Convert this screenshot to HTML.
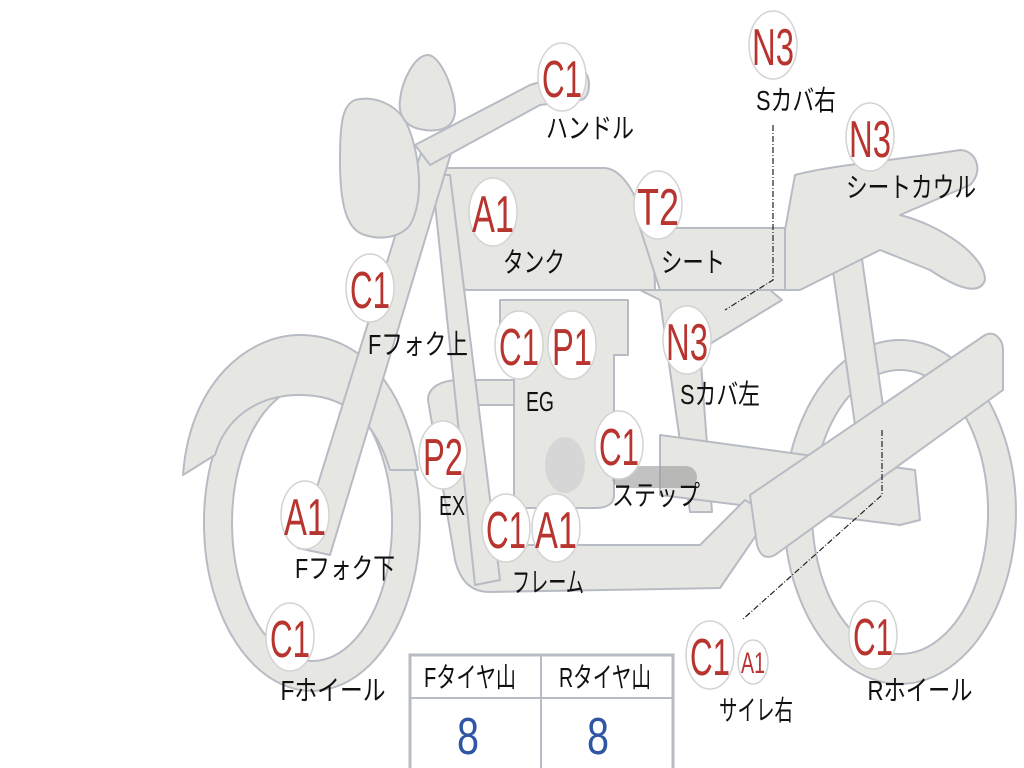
<!DOCTYPE html>
<html><head><meta charset="utf-8"><style>
html,body{margin:0;padding:0;background:#fff;width:1024px;height:768px;overflow:hidden}
svg{display:block}
.p{fill:#e6e6e3;stroke:#b7bbc3;stroke-width:2;stroke-linejoin:round}
.c{fill:#fff;stroke:#d3d3d3;stroke-width:1.5}
.r{fill:#b8352f;font-family:"Liberation Sans","Noto Sans CJK JP",sans-serif;font-size:52px;text-anchor:middle}
.k{fill:#111;font-family:"Liberation Sans","Noto Sans CJK JP",sans-serif;font-size:28px;text-anchor:middle}
</style></head><body>
<svg width="1024" height="768" viewBox="0 0 1024 768" xmlns="http://www.w3.org/2000/svg">
<path class="p" fill-rule="evenodd" d="M900,340 A116,172 0 1,1 899.9,340 Z M900,370 A88,142 0 1,0 900.1,370 Z"/>
<path class="p" fill-rule="evenodd" d="M312,355 A108,168 0 1,1 311.9,355 Z M312,385 A80,138 0 1,0 312.1,385 Z"/>
<path class="p" d="M183,475 C190,380 250,335 300,335 C360,335 405,385 418,470 L390,470 C375,420 345,395 300,395 C255,395 225,420 215,455 Z"/>
<path class="p" d="M830,250 L860,245 L885,420 L855,425 Z"/>
<path class="p" d="M795,175 C830,165 900,160 960,150 C975,150 985,170 970,185 L900,215 C940,225 985,255 985,280 C980,295 960,290 930,270 L880,250 L800,290 L785,290 L785,230 Z"/>
<path class="p" d="M640,290 L700,290 L770,290 L782,300 L700,350 L712,512 L690,512 L660,300 Z"/>
<path class="p" d="M660,435 L915,470 L920,520 L900,525 L660,495 Z"/>
<path class="p" d="M460,380 L514,380 L514,405 L462,405 L490,545 L700,545 L745,500 L770,515 L720,588 L490,592 C470,592 460,580 455,560 L428,400 C428,388 440,380 460,380 Z"/>
<path class="p" d="M500,300 L628,300 L628,355 L614,355 L614,495 C614,505 605,508 595,508 L525,508 C518,508 514,500 514,495 L514,355 L500,355 Z"/>
<ellipse cx="565" cy="465" rx="20" ry="28" fill="#d6d6d6"/>
<rect x="612" y="466" width="85" height="22" rx="11" fill="#999" opacity="0.6"/>
<path class="p" d="M445,168 L605,168 C625,170 640,200 650,240 C655,265 655,285 655,290 L470,290 C455,290 445,280 445,265 Z"/>
<path class="p" d="M640,228 L785,228 L785,290 L660,290 Z"/>
<path class="p" d="M432,175 L450,175 L500,580 L475,585 Z"/>
<path class="p" d="M425,140 L455,140 L330,555 L298,548 Z"/>
<path class="p" d="M355,100 C375,95 395,105 405,120 C420,150 425,200 410,225 C400,238 380,240 365,235 C345,230 340,200 340,160 C340,125 342,105 355,100 Z"/>
<path class="p" d="M428,55 C440,55 455,90 455,110 C455,128 440,132 425,130 C405,128 398,115 400,100 C402,80 415,55 428,55 Z"/>
<path class="p" d="M415,145 L530,85 L580,70 C592,70 592,100 580,100 L540,105 L430,165 Z"/>
<path class="p" d="M750,495 L985,335 C995,330 1003,340 1003,350 L1003,390 L775,555 C765,560 760,555 757,545 Z"/>
<path d="M773,125 L773,280 L725,310" fill="none" stroke="#222" stroke-width="1.2" stroke-dasharray="6,2,1,2"/>
<path d="M882,430 L882,495 L742,620" fill="none" stroke="#222" stroke-width="1.2" stroke-dasharray="6,2,1,2"/>
<g>
<ellipse class="c" cx="562" cy="77" rx="24" ry="34"/><text class="r" x="562" y="97" textLength="40" lengthAdjust="spacingAndGlyphs">C1</text>
<ellipse class="c" cx="773" cy="45" rx="24" ry="34"/><text class="r" x="773" y="65" textLength="42" lengthAdjust="spacingAndGlyphs">N3</text>
<ellipse class="c" cx="870" cy="137" rx="24" ry="34"/><text class="r" x="870" y="157" textLength="42" lengthAdjust="spacingAndGlyphs">N3</text>
<ellipse class="c" cx="493" cy="212" rx="24" ry="34"/><text class="r" x="493" y="232" textLength="42" lengthAdjust="spacingAndGlyphs">A1</text>
<ellipse class="c" cx="658" cy="205" rx="24" ry="34"/><text class="r" x="658" y="225" textLength="42" lengthAdjust="spacingAndGlyphs">T2</text>
<ellipse class="c" cx="370" cy="288" rx="24" ry="34"/><text class="r" x="370" y="308" textLength="40" lengthAdjust="spacingAndGlyphs">C1</text>
<ellipse class="c" cx="519" cy="345" rx="24" ry="34"/><text class="r" x="519" y="365" textLength="40" lengthAdjust="spacingAndGlyphs">C1</text>
<ellipse class="c" cx="572" cy="345" rx="24" ry="34"/><text class="r" x="572" y="365" textLength="40" lengthAdjust="spacingAndGlyphs">P1</text>
<ellipse class="c" cx="687" cy="340" rx="24" ry="34"/><text class="r" x="687" y="360" textLength="42" lengthAdjust="spacingAndGlyphs">N3</text>
<ellipse class="c" cx="619" cy="445" rx="24" ry="34"/><text class="r" x="619" y="465" textLength="40" lengthAdjust="spacingAndGlyphs">C1</text>
<ellipse class="c" cx="443" cy="455" rx="24" ry="34"/><text class="r" x="443" y="475" textLength="40" lengthAdjust="spacingAndGlyphs">P2</text>
<ellipse class="c" cx="506" cy="528" rx="24" ry="34"/><text class="r" x="506" y="548" textLength="40" lengthAdjust="spacingAndGlyphs">C1</text>
<ellipse class="c" cx="556" cy="528" rx="24" ry="34"/><text class="r" x="556" y="548" textLength="42" lengthAdjust="spacingAndGlyphs">A1</text>
<ellipse class="c" cx="305" cy="515" rx="24" ry="34"/><text class="r" x="305" y="535" textLength="42" lengthAdjust="spacingAndGlyphs">A1</text>
<ellipse class="c" cx="290" cy="637" rx="24" ry="34"/><text class="r" x="290" y="657" textLength="40" lengthAdjust="spacingAndGlyphs">C1</text>
<ellipse class="c" cx="710" cy="655" rx="24" ry="34"/><text class="r" x="710" y="675" textLength="40" lengthAdjust="spacingAndGlyphs">C1</text>
<ellipse class="c" cx="753" cy="662" rx="15" ry="22"/><text class="r" x="753" y="673" style="font-size:30px" textLength="24" lengthAdjust="spacingAndGlyphs">A1</text>
<ellipse class="c" cx="873" cy="635" rx="24" ry="34"/><text class="r" x="873" y="655" textLength="40" lengthAdjust="spacingAndGlyphs">C1</text>
</g>
<g>
<text class="k" x="590" y="138" textLength="88" lengthAdjust="spacingAndGlyphs">ハンドル</text>
<text class="k" x="796" y="110" textLength="80" lengthAdjust="spacingAndGlyphs">Sカバ右</text>
<text class="k" x="911" y="197" textLength="130" lengthAdjust="spacingAndGlyphs">シートカウル</text>
<text class="k" x="534" y="272" textLength="62" lengthAdjust="spacingAndGlyphs">タンク</text>
<text class="k" x="693" y="272" textLength="64" lengthAdjust="spacingAndGlyphs">シート</text>
<text class="k" x="418" y="354" textLength="100" lengthAdjust="spacingAndGlyphs">Fフォク上</text>
<text class="k" x="540" y="411" textLength="28" lengthAdjust="spacingAndGlyphs">EG</text>
<text class="k" x="720" y="404" textLength="80" lengthAdjust="spacingAndGlyphs">Sカバ左</text>
<text class="k" x="656" y="505" textLength="88" lengthAdjust="spacingAndGlyphs">ステップ</text>
<text class="k" x="452" y="515" textLength="26" lengthAdjust="spacingAndGlyphs">EX</text>
<text class="k" x="548" y="592" textLength="72" lengthAdjust="spacingAndGlyphs">フレーム</text>
<text class="k" x="345" y="578" textLength="100" lengthAdjust="spacingAndGlyphs">Fフォク下</text>
<text class="k" x="333" y="700" textLength="105" lengthAdjust="spacingAndGlyphs">Fホイール</text>
<text class="k" x="756" y="720" textLength="74" lengthAdjust="spacingAndGlyphs">サイレ右</text>
<text class="k" x="920" y="700" textLength="105" lengthAdjust="spacingAndGlyphs">Rホイール</text>
</g>
<rect x="410" y="655" width="263" height="118" fill="#fff" stroke="#b7bbc3" stroke-width="3"/>
<line x1="410" y1="698" x2="673" y2="698" stroke="#b7bbc3" stroke-width="2"/>
<line x1="541" y1="655" x2="541" y2="768" stroke="#b7bbc3" stroke-width="2"/>
<text class="k" x="470" y="687" textLength="92" lengthAdjust="spacingAndGlyphs">Fタイヤ山</text>
<text class="k" x="605" y="687" textLength="92" lengthAdjust="spacingAndGlyphs">Rタイヤ山</text>
<text x="468" y="754" fill="#2f55a5" font-family="Liberation Sans,sans-serif" font-size="52" text-anchor="middle" textLength="22" lengthAdjust="spacingAndGlyphs">8</text>
<text x="598" y="754" fill="#2f55a5" font-family="Liberation Sans,sans-serif" font-size="52" text-anchor="middle" textLength="22" lengthAdjust="spacingAndGlyphs">8</text>
</svg>
</body></html>
